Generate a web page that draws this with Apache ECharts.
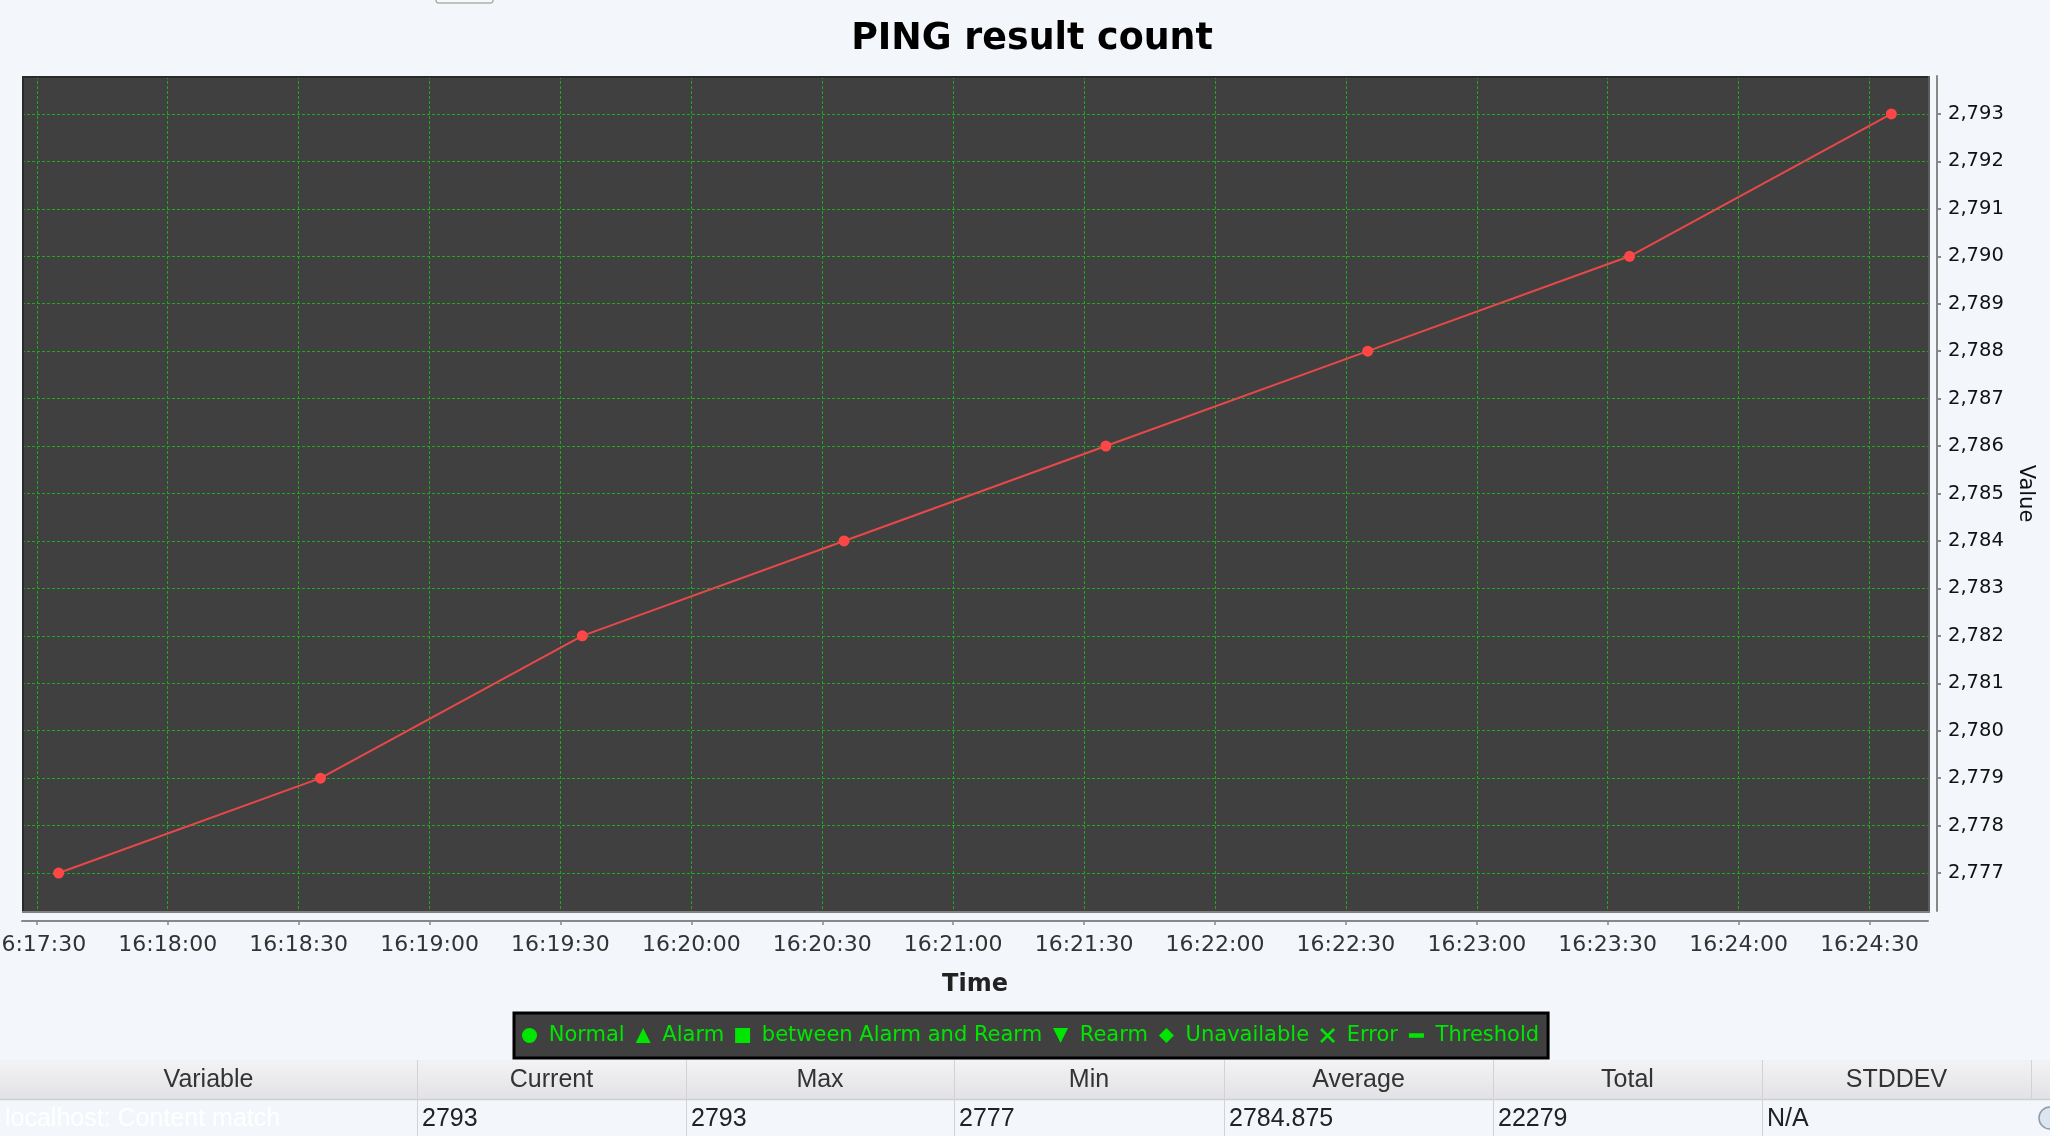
<!DOCTYPE html>
<html><head><meta charset="utf-8">
<script src="https://cdn.jsdelivr.net/npm/echarts@6/dist/echarts.min.js"></script>
<style>html,body{margin:0;padding:0;background:#f3f6fb;overflow:hidden}#c{width:2050px;height:1136px;}</style>
</head><body><div id="c"></div>
<script>
// ---- data ----
const times = ['16:17:35','16:18:35','16:19:35','16:20:35','16:21:35','16:22:35','16:23:35','16:24:35'];
const values = [2777, 2779, 2782, 2784, 2786, 2788, 2790, 2793];
const xTickLabels = ['16:17:30','16:18:00','16:18:30','16:19:00','16:19:30','16:20:00','16:20:30','16:21:00',
  '16:21:30','16:22:00','16:22:30','16:23:00','16:23:30','16:24:00','16:24:30'];
const yTickValues = [2777,2778,2779,2780,2781,2782,2783,2784,2785,2786,2787,2788,2789,2790,2791,2792,2793];
const xRange = ['16:17:26.6','16:24:43.4'];
const yRange = [2776.2, 2793.8];
const legendNames = ['Normal','Alarm','between Alarm and Rearm','Rearm','Unavailable','Error','Threshold'];
const tableHeaders = ['Variable','Current','Max','Min','Average','Total','STDDEV'];
const tableRow = ['localhost: Content match','2793','2793','2777','2784.875','22279','N/A'];

// ---- helpers ----
function toSec(s){const p=s.split(':');return (+p[0])*3600+(+p[1])*60+parseFloat(p[2]);}
function fmtTime(v){v=Math.round(v);const h=Math.floor(v/3600),m=Math.floor(v%3600/60),s=v%60;
  const z=n=>(n<10?'0':'')+n;return z(h)+':'+z(m)+':'+z(s);}
function fmtNum(v){return String(v).replace(/\B(?=(\d{3})+(?!\d))/g, ',');}

const lineData = times.map((t,i)=>[toSec(t), values[i]]);
const xTicks = xTickLabels.map(toSec);

const GREEN = '#00e600';
const legendIcons = ['circle','triangle','rect','path://M0,0L12,0L6,12Z','diamond',
  'path://M0,2L2,0L8,6L14,0L16,2L10,8L16,14L14,16L8,10L2,16L0,14L6,8Z','path://M0,0H20V6H0Z'];

// layout constants
const G = {left:22, top:76, width:1906, height:835};
const colEdges = [0,417,686,954,1224,1493,1762,2031];
const HEAD_TOP = 1060, HEAD_BOT = 1099, ROW_BOT = 1136;

const graphics = [];
// plot frame
graphics.push({type:'line', shape:{x1:G.left, y1:G.top+1, x2:G.left+G.width+1, y2:G.top+1}, style:{stroke:'#2a2a2a', lineWidth:2}, z:5});
graphics.push({type:'line', shape:{x1:G.left+1, y1:G.top, x2:G.left+1, y2:G.top+G.height+2}, style:{stroke:'#2a2a2a', lineWidth:2}, z:5});
graphics.push({type:'line', shape:{x1:G.left+G.width+1, y1:G.top, x2:G.left+G.width+1, y2:G.top+G.height+2}, style:{stroke:'#5c5c5c', lineWidth:2}, z:5});
graphics.push({type:'line', shape:{x1:G.left, y1:G.top+G.height+1, x2:G.left+G.width+2, y2:G.top+G.height+1}, style:{stroke:'#808080', lineWidth:2}, z:5});
// small tab at the top
graphics.push({type:'rect', shape:{x:436, y:-12, width:57, height:15, r:2}, style:{fill:'#f7f8fa', stroke:'#8a8a8a', lineWidth:1}});
// table header background
graphics.push({type:'rect', shape:{x:0, y:HEAD_TOP, width:2050, height:HEAD_BOT-HEAD_TOP},
  style:{fill:new echarts.graphic.LinearGradient(0,0,0,1,[{offset:0,color:'#f3f3f5'},{offset:1,color:'#e2e2e6'}])}});
graphics.push({type:'line', shape:{x1:0, y1:HEAD_BOT+0.5, x2:2050, y2:HEAD_BOT+0.5}, style:{stroke:'#cfcfd4', lineWidth:1.5}});
for (let i=0;i<tableHeaders.length;i++){
  const x0=colEdges[i], x1=colEdges[i+1];
  if (i>0) graphics.push({type:'line', shape:{x1:x0+0.5, y1:HEAD_TOP, x2:x0+0.5, y2:ROW_BOT}, style:{stroke:'#d2d2d6', lineWidth:1}});
  graphics.push({type:'text', x:(x0+x1)/2, y:(HEAD_TOP+HEAD_BOT)/2+1, style:{text:tableHeaders[i], fill:'#333',
    font:'25px "Liberation Sans", Arial, sans-serif', textAlign:'center', textVerticalAlign:'middle'}});
  graphics.push({type:'text', x:x0+5, y:(HEAD_BOT+ROW_BOT)/2+2, style:{text:tableRow[i], fill: i===0?'#ffffff':'#222',
    font:'25px "Liberation Sans", Arial, sans-serif', textAlign:'left', textVerticalAlign:'middle'}});
}
graphics.push({type:'line', shape:{x1:2031.5, y1:HEAD_TOP, x2:2031.5, y2:HEAD_BOT}, style:{stroke:'#d2d2d6', lineWidth:1}});
graphics.push({type:'circle', shape:{cx:2050, cy:1118, r:11}, style:{fill:'#dde6f0', stroke:'#8d9bab', lineWidth:1.5}});

const series = [{
  name:'localhost: Content match', type:'line', data:lineData,
  symbol:'circle', symbolSize:11, showSymbol:true,
  lineStyle:{color:'#e84848', width:2}, itemStyle:{color:'#ff4646'}, z:3, animation:false
}];
legendNames.forEach((n)=>series.push({name:n, type:'line', data:[], itemStyle:{color:GREEN}, lineStyle:{color:GREEN}}));

const option = {
  animation:false,
  backgroundColor:'#f3f6fb',
  title:{text:'PING result count', left:1027, top:17, textAlign:'center',
    textStyle:{fontFamily:'"DejaVu Sans", sans-serif', fontWeight:'bold', fontSize:36.4, color:'#000'}},
  grid:{left:G.left, top:G.top, width:G.width, height:G.height, show:true, backgroundColor:'#404040', borderWidth:0,
    outerBoundsMode:'none', containLabel:false},
  xAxis:{
    type:'value', min:toSec(xRange[0]), max:toSec(xRange[1]), offset:10,
    name:'Time', nameLocation:'middle', nameGap:52,
    nameTextStyle:{fontFamily:'"DejaVu Sans", sans-serif', fontWeight:'bold', fontSize:24, color:'#222'},
    axisLine:{show:true, lineStyle:{color:'#888', width:2}},
    axisTick:{show:true, length:4, customValues:xTicks, lineStyle:{color:'#888', width:1.5}},
    axisLabel:{customValues:xTicks, formatter:fmtTime, margin:13, color:'#333',
      fontFamily:'"DejaVu Sans", sans-serif', fontSize:22, showMinLabel:true, showMaxLabel:true, hideOverlap:false},
    splitLine:{show:true, lineStyle:{color:'#1ea81e', type:[3,2], width:1}}
  },
  yAxis:{
    type:'value', position:'right', min:yRange[0], max:yRange[1], offset:9,
    name:'Value', nameLocation:'middle', nameGap:76, nameRotate:-90,
    nameTextStyle:{fontFamily:'"DejaVu Sans", sans-serif', fontSize:21, color:'#111'},
    axisLine:{show:true, lineStyle:{color:'#888', width:2}},
    axisTick:{show:true, length:4, customValues:yTickValues, lineStyle:{color:'#888', width:2}},
    axisLabel:{customValues:yTickValues, formatter:fmtNum, margin:11, color:'#111',
      fontFamily:'"DejaVu Sans", sans-serif', fontSize:19.5},
    splitLine:{show:true, lineStyle:{color:'#1ea81e', type:[3,2], width:1}}
  },
  legend:{
    data:legendNames.map((n,i)=>({name:n, icon:legendIcons[i]})),
    left:514, top:1013, orient:'horizontal', selectedMode:false,
    backgroundColor:'#404040', borderColor:'#000', borderWidth:3, borderRadius:0,
    padding:[12,9,12,8], itemGap:11, itemWidth:15, itemHeight:15,
    formatter:n=>' '+n,
    textStyle:{color:GREEN, fontFamily:'"DejaVu Sans", sans-serif', fontSize:21, padding:[0,0,0,0]}
  },
  graphic:graphics,
  series:series
};
const chart = echarts.init(document.getElementById('c'), null, {renderer:'canvas'});
chart.setOption(option);
</script></body></html>
